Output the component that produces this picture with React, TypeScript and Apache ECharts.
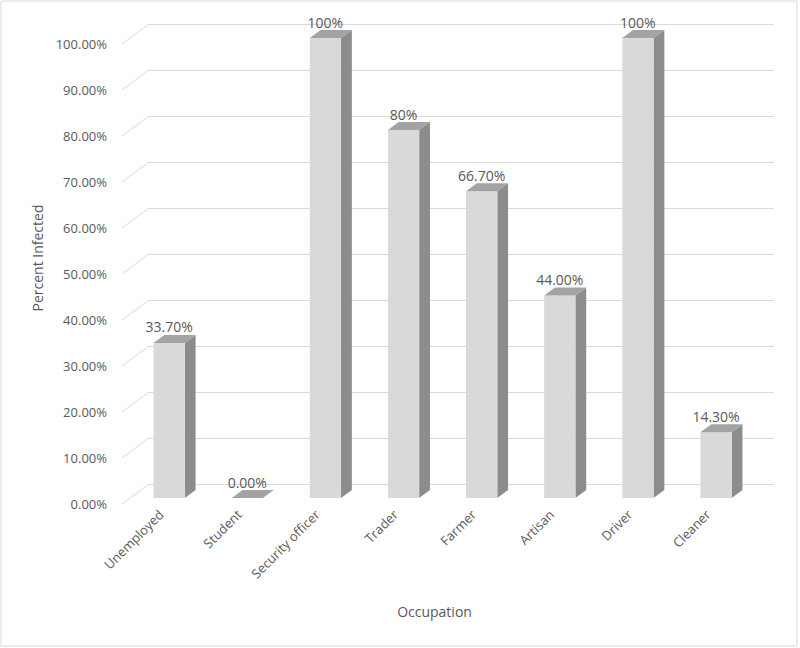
import React, { useEffect, useRef } from "react";
import * as echarts from "echarts";

const categories = ["Unemployed", "Student", "Security officer", "Trader", "Farmer", "Artisan", "Driver", "Cleaner"];
const values = [33.7, 0, 100, 80, 66.7, 44, 100, 14.3];
const valueLabels = ["33.70%", "0.00%", "100%", "80%", "66.70%", "44.00%", "100%", "14.30%"];
const yTickValues = [0, 10, 20, 30, 40, 50, 60, 70, 80, 90, 100];

const DX = 27; // full depth offset x (px)
const DY = 20; // full depth offset y (px)
const Z0 = 0.3; // bar front depth
const Z1 = 0.7; // bar back depth
const FONT = '"Open Sans", "Liberation Sans", sans-serif';
const TEXT = "#595959";
const GRID_COLOR = "#d9d9d9";

export default function App() {
  const ref = useRef<HTMLDivElement>(null);
  useEffect(() => {
    if (!ref.current) return;
    const chart = echarts.init(ref.current, null, { renderer: "svg" });
    const option: any = {
      animation: false,
      backgroundColor: "#ffffff",
      textStyle: { fontFamily: FONT },
      grid: [
        { left: 122, right: 53, top: 44, bottom: 144 },
        { left: 149, right: 26, top: 24, bottom: 164 },
      ],
      xAxis: [
        {
          type: "category",
          gridIndex: 0,
          data: categories,
          axisLine: { show: false },
          axisTick: { show: false },
          axisLabel: { rotate: 45, margin: 8, color: TEXT, fontSize: 13, fontFamily: FONT },
          name: "Occupation",
          nameLocation: "middle",
          nameGap: 100,
          nameTextStyle: { color: TEXT, fontSize: 14, fontFamily: FONT },
        },
        { type: "category", gridIndex: 1, data: categories, show: false },
      ],
      yAxis: [
        {
          type: "value",
          gridIndex: 0,
          min: 0,
          max: 100,
          interval: 10,
          axisLine: { show: false },
          axisTick: { show: false },
          splitLine: { show: false },
          axisLabel: {
            margin: 15,
            color: TEXT,
            fontSize: 13,
            fontFamily: FONT,
            formatter: (v: number) => v.toFixed(2) + "%",
          },
        },
        {
          type: "value",
          gridIndex: 1,
          min: 0,
          max: 100,
          interval: 10,
          axisLine: { show: false },
          axisTick: { show: false },
          axisLabel: { show: false },
          splitLine: { show: true, lineStyle: { color: GRID_COLOR, width: 1 } },
        },
      ],
      graphic: [
        {
          type: "rect",
          shape: { x: 1, y: 1, width: 796, height: 645 },
          style: { fill: "none", stroke: GRID_COLOR, lineWidth: 1 },
          silent: true,
        },
        {
          type: "text",
          x: 37,
          y: 258,
          rotation: Math.PI / 2,
          style: {
            text: "Percent Infected",
            fill: TEXT,
            font: `14px ${FONT}`,
            textAlign: "center",
            textVerticalAlign: "middle",
          },
        },
      ],
      series: [
        {
          type: "custom",
          xAxisIndex: 0,
          yAxisIndex: 0,
          data: yTickValues.map((v) => [0, v]),
          encode: { x: 0, y: 1 },
          z: 1,
          renderItem: (params: any, api: any) => {
            const v = api.value(1);
            const p = api.coord([0, v]);
            const x0 = params.coordSys.x;
            return {
              type: "line",
              shape: { x1: x0, y1: p[1], x2: x0 + DX, y2: p[1] - DY },
              style: { stroke: GRID_COLOR, lineWidth: 1 },
              silent: true,
            };
          },
        },
        {
          type: "custom",
          xAxisIndex: 0,
          yAxisIndex: 0,
          data: values.map((v, i) => [i, v]),
          encode: { x: 0, y: 1 },
          z: 3,
          renderItem: (params: any, api: any) => {
            const i = api.value(0);
            const v = api.value(1);
            const top = api.coord([i, v]);
            const base = api.coord([i, 0]);
            const band = api.size([1, 0])[0];
            const w = band * 0.4;
            const cx = top[0] + Z0 * DX;
            const xl = cx - w / 2;
            const xr = cx + w / 2;
            const yT = top[1] - Z0 * DY;
            const yB = base[1] - Z0 * DY;
            const ddx = (Z1 - Z0) * DX;
            const ddy = (Z1 - Z0) * DY;
            const children: any[] = [];
            if (yB - yT > 0.5) {
              children.push({
                type: "polygon",
                shape: { points: [[xr, yT], [xr + ddx, yT - ddy], [xr + ddx, yB - ddy], [xr, yB]] },
                style: { fill: "#8c8c8c" },
              });
              children.push({
                type: "rect",
                shape: { x: xl, y: yT, width: w, height: yB - yT },
                style: { fill: "#d9d9d9" },
              });
            }
            children.push({
              type: "polygon",
              shape: { points: [[xl, yT], [xr, yT], [xr + ddx, yT - ddy], [xl + ddx, yT - ddy]] },
              style: { fill: "#a3a3a3" },
            });
            children.push({
              type: "text",
              style: {
                text: valueLabels[i],
                x: cx,
                y: yT - 16,
                textAlign: "center",
                textVerticalAlign: "middle",
                fill: TEXT,
                font: `14px ${FONT}`,
              },
            });
            return { type: "group", children };
          },
        },
      ],
    };
    chart.setOption(option);
    return () => chart.dispose();
  }, []);
  return (
    <div
      ref={ref}
      style={{ position: "absolute", left: 0, top: 0, width: 800, height: 648 }}
    />
  );
}
